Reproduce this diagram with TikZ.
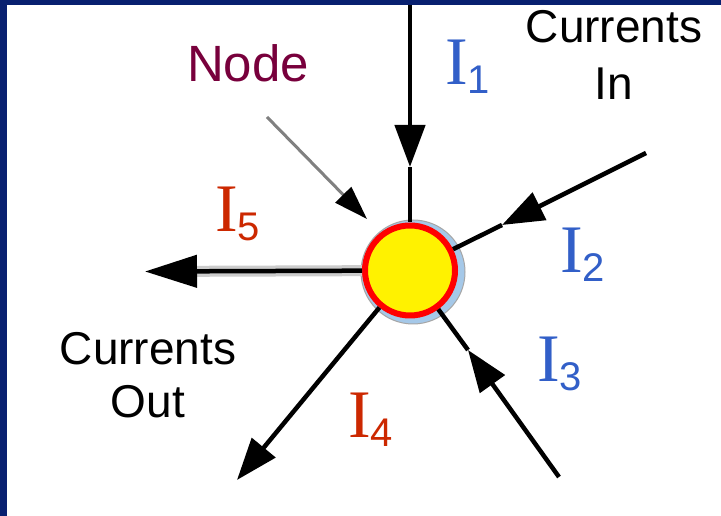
\documentclass[tikz,border=0pt]{standalone}
\usepackage{fontspec}
\setmainfont{Liberation Sans}
\newfontfamily\serifface{Liberation Serif}
\usetikzlibrary{arrows.meta,positioning}
\definecolor{navy}{RGB}{8,32,112}
\definecolor{inblue}{RGB}{50,95,200}
\definecolor{outred}{RGB}{204,40,0}
\definecolor{maroon}{RGB}{120,0,60}
\definecolor{halo}{RGB}{165,200,232}
\newcommand{\currlabel}[1]{{\serifface I}\raisebox{-9pt}{\fontsize{40}{40}\selectfont #1}}

\begin{document}
\begin{tikzpicture}[x=1pt, y=1pt,
  wire/.style={line width=4.5pt},
  head/.style={-{Triangle[length=42pt,width=30pt]}},
  txt/.style={font=\fontsize{46}{56}\selectfont, align=center, inner sep=0pt},
  ilabel/.style={font=\fontsize{68}{68}\selectfont, inner sep=0pt, anchor=base west}]
\useasboundingbox (0,0) rectangle (721,516);
\fill[navy] (0,0) rectangle (721,516);
\fill[white] (7,0) rectangle (721,511);

% junction
\node[circle, draw=gray!70, line width=1pt, fill=halo, minimum size=104pt, inner sep=0pt] (halo) at (413,244) {};
\node[circle, draw=red, line width=6pt, fill=yellow, minimum size=90pt, inner sep=0pt] (junction) at (410,245.5) {};

% free ends
\coordinate (i1top) at (410,511);
\coordinate (i1tip) at (410,349);
\coordinate (i2end) at (646,363);
\coordinate (i2tip) at (502,291);
\coordinate (i3end) at (559,39);
\coordinate (i3tip) at (468,166);
\coordinate (i4end) at (237,36);
\coordinate (i5end) at (145,244.5);
\coordinate (ptrstart) at (267,399);
\coordinate (ptrtip) at (367,297);

% currents in
\draw[wire, head] (i1top) -- (i1tip);
\draw[wire] (i1tip) -- (junction);
\draw[wire, head] (i2end) -- (i2tip);
\draw[wire] (i2tip) -- (junction);
\draw[wire, head] (i3end) -- (i3tip);
\draw[wire] (i3tip) -- (junction);

% currents out
\draw[wire, head] (junction) -- (i4end);
\draw[gray!40, line width=11pt, shorten >=48pt] (junction) -- (i5end);
\draw[wire, -{Triangle[length=52pt,width=32pt]}] (junction) -- (i5end);

% pointer to the node
\draw[gray, line width=3pt, -{Triangle[length=34pt,width=22pt,black]}] (ptrstart) -- (ptrtip);

% labels
\node[txt, maroon, font=\fontsize{51}{56}\selectfont, anchor=base] (nodelabel) at (248,434) {Node};
\node[txt, anchor=base] (inlabel) at (614,416) {Currents\\[1pt]In};
\node[txt, anchor=base] (outlabel) at (148,98) {Currents\\[-3pt]Out};
\node[ilabel, inblue] (i1label) at (445,431) {\currlabel{1}};
\node[ilabel, inblue] (i2label) at (560,243) {\currlabel{2}};
\node[ilabel, inblue] (i3label) at (537,134) {\currlabel{3}};
\node[ilabel, outred] (i4label) at (348,78) {\currlabel{4}};
\node[ilabel, outred] (i5label) at (215,284) {\currlabel{5}};
\end{tikzpicture}
\end{document}
